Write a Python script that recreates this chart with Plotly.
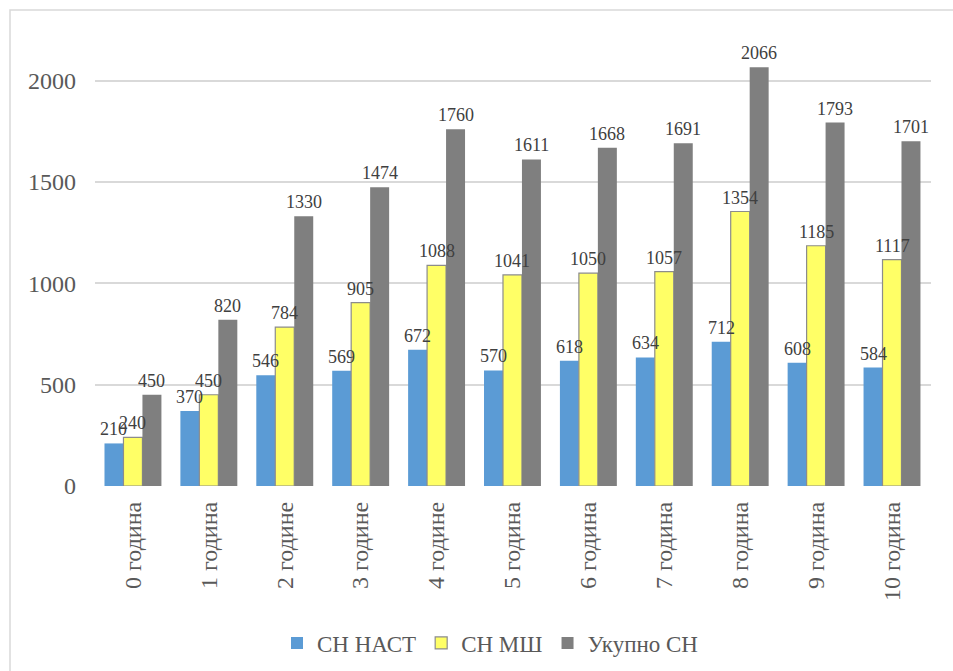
import plotly.graph_objects as go

categories = ["0 година", "1 година", "2 године", "3 године", "4 године", "5 година",
              "6 година", "7 година", "8 година", "9 година", "10 година"]
sn_nast = [210, 370, 546, 569, 672, 570, 618, 634, 712, 608, 584]
sn_msh = [240, 450, 784, 905, 1088, 1041, 1050, 1057, 1354, 1185, 1117]
ukupno_sn = [450, 820, 1330, 1474, 1760, 1611, 1668, 1691, 2066, 1793, 1701]
y_ticks = [0, 500, 1000, 1500, 2000]

W, H = 953, 671
ML, MR, MT, MB = 95, 22, 40, 185
FONT = "Liberation Serif, DejaVu Serif, serif"
TXT = "#595959"
BARGAP = 0.25

pw = W - ML - MR
ph = H - MT - MB
bar_px = pw / len(categories) * (1 - BARGAP) / 3

fig = go.Figure()
series = [
    ("СН НАСТ", sn_nast, "#5B9BD5", dict(width=0)),
    ("СН МШ", sn_msh, "#FFFF66", dict(color="#8C8C8C", width=1.2)),
    ("Укупно СН", ukupno_sn, "#7F7F7F", dict(width=0)),
]
for name, vals, color, line in series:
    fig.add_trace(go.Bar(x=categories, y=vals, name=name,
                         marker=dict(color=color, line=line)))

# value labels drawn above every bar, on top of all traces
for i, (name, vals, color, line) in enumerate(series):
    for cat, v in zip(categories, vals):
        fig.add_annotation(x=cat, y=v, text=str(v), showarrow=False,
                           xanchor="center", yanchor="bottom",
                           xshift=(i - 1) * bar_px, yshift=2,
                           font=dict(family=FONT, size=18, color="#404040"))

fig.add_shape(type="rect", xref="paper", yref="paper",
              x0=(10 - ML) / pw, x1=(W + 20 - ML) / pw,
              y0=-(H + 20 - MT - ph) / ph, y1=1 + (MT - 10) / ph,
              line=dict(color="#D9D9D9", width=1.5), fillcolor="rgba(0,0,0,0)", layer="below")

fig.update_layout(
    width=W, height=H,
    margin=dict(l=ML, r=MR, t=MT, b=MB, autoexpand=False),
    paper_bgcolor="white", plot_bgcolor="white",
    barmode="group", bargap=BARGAP, bargroupgap=0,
    font=dict(family=FONT, color=TXT, size=23),
    showlegend=True,
    legend=dict(orientation="h", xref="container", yref="container",
                x=490 / W, xanchor="center", y=1 - 643 / H, yanchor="middle",
                font=dict(family=FONT, size=23, color=TXT), itemwidth=30),
    xaxis=dict(tickangle=-90, showgrid=False, showline=False, ticks="", automargin=False,
               tickfont=dict(family=FONT, size=24, color=TXT), ticklabelstandoff=10),
    yaxis=dict(range=[0, 2200], tickvals=y_ticks, showgrid=True, gridcolor="#D9D9D9",
               gridwidth=1.5, zeroline=False, showline=False, ticks="", automargin=False,
               tickfont=dict(family=FONT, size=24, color=TXT), ticklabelstandoff=18),
)

fig.write_html("out.html")
